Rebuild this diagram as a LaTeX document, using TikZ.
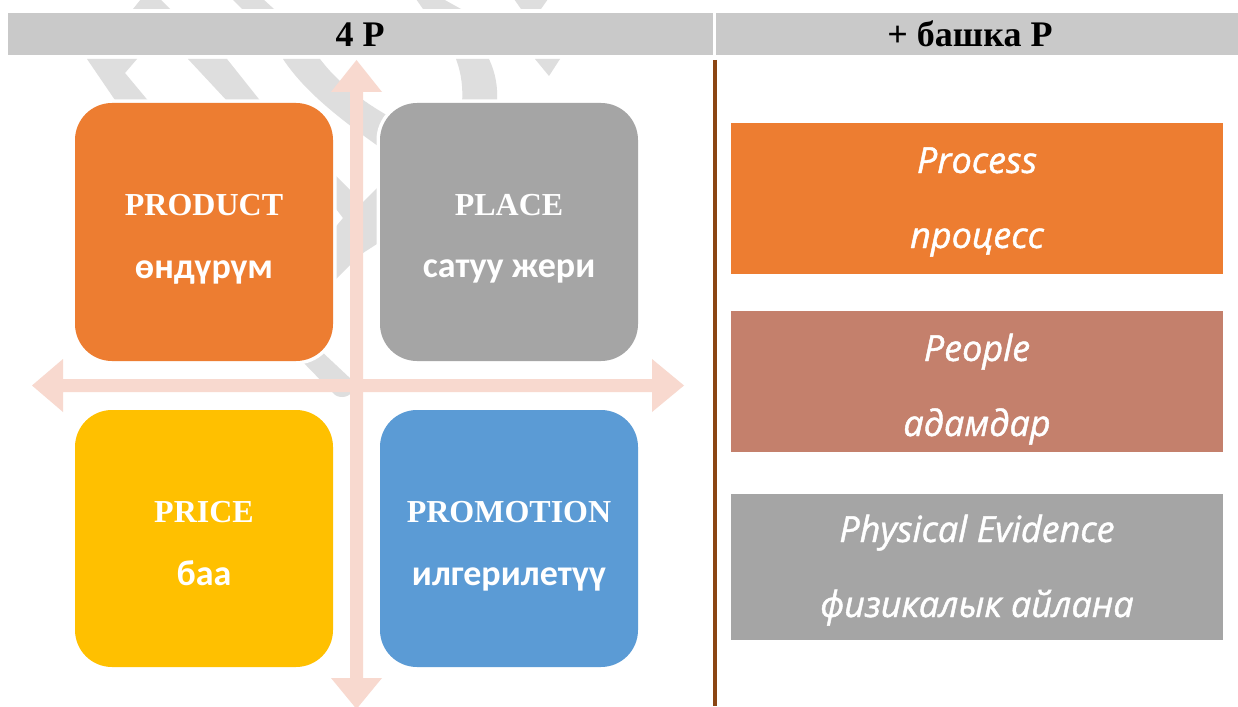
\documentclass[tikz,border=0pt]{standalone}
\usepackage{fontspec}
\setmainfont{Liberation Serif}
\newfontfamily\calfont{Carlito}
\newfontfamily\handfont[ItalicFeatures={FakeBold=1.2}]{Open Sans}
\definecolor{hdr}{HTML}{C9C9C9}
\definecolor{wm}{HTML}{DEDEDE}
\definecolor{arr}{HTML}{F8D9CF}
\definecolor{orng}{HTML}{ED7D31}
\definecolor{gry}{HTML}{A5A5A5}
\definecolor{ylw}{HTML}{FFC000}
\definecolor{blu}{HTML}{5B9BD5}
\definecolor{ppl}{HTML}{C4806C}
\definecolor{brn}{HTML}{8B4513}
\begin{document}
\begin{tikzpicture}[x=1pt,y=-1pt,
  quad/.style={rounded corners=37pt, minimum width=258pt, minimum height=258pt,
    inner sep=0pt, outer sep=0pt, anchor=north west,
    preaction={draw=white, line width=7pt}},
  rbox/.style={minimum width=492pt, inner sep=0pt, outer sep=0pt, anchor=north west,
    preaction={draw=white, line width=2pt}},
  hbar/.style={fill=hdr, inner sep=0pt, outer sep=0pt, anchor=north west, minimum height=42pt},
  hdrtxt/.style={anchor=base, font=\fontsize{36}{42}\selectfont\bfseries, text=black, inner sep=0pt},
  ttl/.style={anchor=base, font=\fontsize{32}{38}\selectfont\bfseries, text=white, inner sep=0pt},
  sub/.style={anchor=base, font=\calfont\fontsize{36}{42}\selectfont\bfseries, text=white, inner sep=0pt},
  hand/.style={anchor=base, font=\handfont\fontsize{36}{42}\selectfont\itshape, text=white, inner sep=0pt}]
\useasboundingbox (0,0) rectangle (1238,706);
\fill[white] (0,0) rectangle (1238,706);
% watermark pieces
\fill[wm] (133,9) -- (141,-1) -- (160,-1) -- (170,9) -- cycle;
\fill[wm] (232,-1) -- (263,-1) -- (274,9) -- (242,9) -- cycle;
\fill[wm] (416,-1) -- (443,-1) -- (461,9) -- (423,9) -- cycle;
\fill[wm] (514,-1) -- (548,-1) -- (541,9) -- (521,9) -- cycle;
\fill[wm] (87,59) -- (137,59) -- (125,73) -- (150,103) -- (117,103) -- cycle;
\fill[wm] (188,59) -- (227,59) -- (262,103) -- (229,103) -- cycle;
\fill[wm] (283,59) -- (320,59) .. controls (336,80) and (360,102) .. (405,125)
   -- (405,160) -- (398,160) .. controls (340,120) and (305,92) .. (283,59) -- cycle;
\fill[wm] (456,59) .. controls (462,75) and (463,90) .. (462,103) -- (497,103)
   .. controls (498,85) and (495,72) .. (489,59) -- cycle;
\fill[wm] (535,59) -- (560,59) -- (549,76) -- cycle;
\fill[wm] (333,173) -- (350,190) -- (350,265) -- (333,282) -- (333,230) -- (343,218) -- (333,205) -- cycle;
\fill[wm] (363,202) -- (380,185) -- (380,242) -- (363,253) -- cycle;
\fill[wm] (298,357) -- (320,350) -- (352,380) -- (352,392) .. controls (348,398) and (338,399) .. (333,393) -- cycle;
% headers
\node[hbar, minimum width=705pt] (h1) at (8,13) {};
\node[hbar, minimum width=522pt] (h2) at (716,13) {};
\node[hdrtxt] (h1t) at (360,47) {4 P};
\node[hdrtxt] (h2t) at (970,47) {+ башка P};
% divider
\coordinate (dtop) at (715,60);
\coordinate (dbot) at (715,706);
\draw[brn, line width=4pt] (dtop) -- (dbot);
% arrows
\fill[arr] (32,385.5) -- (63,359) -- (63,379) -- (652,379) -- (652,359) -- (684,385.5)
   -- (652,412) -- (652,392) -- (63,392) -- (63,412) -- cycle;
\fill[arr] (356.5,60) -- (382,92) -- (363,92) -- (363,678) -- (382,678) -- (356.5,709)
   -- (331,678) -- (350,678) -- (350,92) -- (331,92) -- cycle;
% quadrant boxes
\node[quad, fill=orng] (prod) at (75,103) {};
\node[quad, fill=gry] (plac) at (380,103) {};
\node[quad, fill=ylw, minimum height=257pt] (pric) at (75,410) {};
\node[quad, fill=blu, minimum height=257pt] (prom) at (380,410) {};
\node[ttl] (prodt) at (204,215) {PRODUCT};
\node[sub] (prods) at (204,278) {өндүрүм};
\node[ttl] (plact) at (509,215) {PLACE};
\node[sub] (placs) at (509,277) {сатуу жери};
\node[ttl] (prict) at (204,522) {PRICE};
\node[sub] (pricss) at (204,585) {баа};
\node[ttl] (promt) at (509,522) {PROMOTION};
\node[sub] (proms) at (509,585) {илгерилетүү};
% right boxes
\node[rbox, fill=orng, minimum height=151pt] (proc) at (731,123) {};
\node[rbox, fill=ppl, minimum height=141pt] (peop) at (731,311) {};
\node[rbox, fill=gry, minimum height=146pt] (phys) at (731,494) {};
\node[hand] (proct) at (977,173) {Process};
\node[hand] (procs) at (977,248) {процесс};
\node[hand] (peopt) at (977,361) {People};
\node[hand] (peops) at (977,436) {адамдар};
\node[hand] (physt) at (977,542) {Physical Evidence};
\node[hand] (physs) at (977,617) {физикалык айлана};
\end{tikzpicture}
\end{document}
